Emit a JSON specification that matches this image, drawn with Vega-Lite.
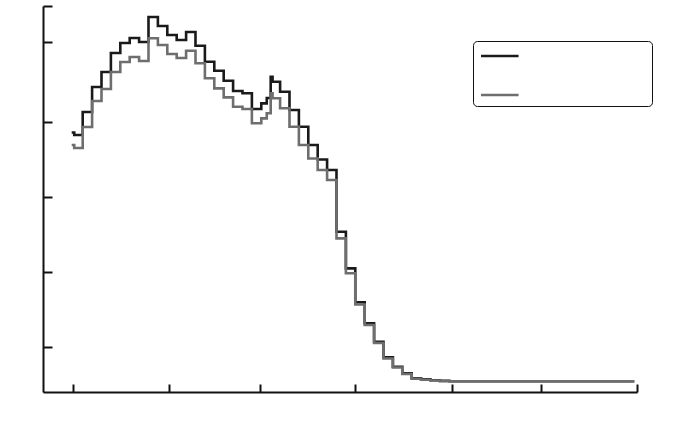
{
  "$schema": "https://vega.github.io/schema/vega-lite/v6.json",
  "autosize": "none",
  "width": 594,
  "height": 386,
  "padding": {"left": 43, "top": 6, "right": 63, "bottom": 56},
  "background": "white",
  "view": {"stroke": null},
  "config": {
    "axis": {
      "domainColor": "#111111",
      "domainWidth": 2,
      "tickColor": "#111111",
      "tickWidth": 2,
      "labels": false,
      "grid": false,
      "title": null
    }
  },
  "data": {
    "values": [
      {"s": "a", "x": -0.017, "y": 3.86},
      {"s": "a", "x": 0.01, "y": 3.827},
      {"s": "a", "x": 0.1, "y": 4.133},
      {"s": "a", "x": 0.2, "y": 4.467},
      {"s": "a", "x": 0.3, "y": 4.667},
      {"s": "a", "x": 0.4, "y": 4.92},
      {"s": "a", "x": 0.5, "y": 5.053},
      {"s": "a", "x": 0.6, "y": 5.12},
      {"s": "a", "x": 0.7, "y": 5.067},
      {"s": "a", "x": 0.8, "y": 5.4},
      {"s": "a", "x": 0.9, "y": 5.28},
      {"s": "a", "x": 1.0, "y": 5.16},
      {"s": "a", "x": 1.1, "y": 5.093},
      {"s": "a", "x": 1.2, "y": 5.2},
      {"s": "a", "x": 1.3, "y": 5.017},
      {"s": "a", "x": 1.4, "y": 4.804},
      {"s": "a", "x": 1.5, "y": 4.684},
      {"s": "a", "x": 1.6, "y": 4.551},
      {"s": "a", "x": 1.7, "y": 4.413},
      {"s": "a", "x": 1.8, "y": 4.383},
      {"s": "a", "x": 1.9, "y": 4.173},
      {"s": "a", "x": 2.0, "y": 4.249},
      {"s": "a", "x": 2.058, "y": 4.32},
      {"s": "a", "x": 2.1, "y": 4.604},
      {"s": "a", "x": 2.12, "y": 4.537},
      {"s": "a", "x": 2.2, "y": 4.404},
      {"s": "a", "x": 2.3, "y": 4.16},
      {"s": "a", "x": 2.4, "y": 3.937},
      {"s": "a", "x": 2.5, "y": 3.693},
      {"s": "a", "x": 2.6, "y": 3.5},
      {"s": "a", "x": 2.7, "y": 3.36},
      {"s": "a", "x": 2.8, "y": 2.537},
      {"s": "a", "x": 2.9, "y": 2.049},
      {"s": "a", "x": 3.0, "y": 1.596},
      {"s": "a", "x": 3.1, "y": 1.316},
      {"s": "a", "x": 3.2, "y": 1.071},
      {"s": "a", "x": 3.3, "y": 0.863},
      {"s": "a", "x": 3.4, "y": 0.737},
      {"s": "a", "x": 3.5, "y": 0.649},
      {"s": "a", "x": 3.6, "y": 0.583},
      {"s": "a", "x": 3.7, "y": 0.569},
      {"s": "a", "x": 3.8, "y": 0.556},
      {"s": "a", "x": 3.9, "y": 0.549},
      {"s": "a", "x": 4.0, "y": 0.544},
      {"s": "a", "x": 5.968, "y": 0.544},
      {"s": "b", "x": -0.017, "y": 3.693},
      {"s": "b", "x": 0.01, "y": 3.653},
      {"s": "b", "x": 0.1, "y": 3.933},
      {"s": "b", "x": 0.2, "y": 4.28},
      {"s": "b", "x": 0.3, "y": 4.44},
      {"s": "b", "x": 0.4, "y": 4.667},
      {"s": "b", "x": 0.5, "y": 4.8},
      {"s": "b", "x": 0.6, "y": 4.867},
      {"s": "b", "x": 0.7, "y": 4.813},
      {"s": "b", "x": 0.8, "y": 5.116},
      {"s": "b", "x": 0.9, "y": 5.027},
      {"s": "b", "x": 1.0, "y": 4.907},
      {"s": "b", "x": 1.1, "y": 4.853},
      {"s": "b", "x": 1.2, "y": 4.951},
      {"s": "b", "x": 1.3, "y": 4.783},
      {"s": "b", "x": 1.4, "y": 4.583},
      {"s": "b", "x": 1.5, "y": 4.449},
      {"s": "b", "x": 1.6, "y": 4.329},
      {"s": "b", "x": 1.7, "y": 4.204},
      {"s": "b", "x": 1.8, "y": 4.173},
      {"s": "b", "x": 1.9, "y": 3.983},
      {"s": "b", "x": 2.0, "y": 4.049},
      {"s": "b", "x": 2.058, "y": 4.116},
      {"s": "b", "x": 2.1, "y": 4.383},
      {"s": "b", "x": 2.12, "y": 4.316},
      {"s": "b", "x": 2.2, "y": 4.183},
      {"s": "b", "x": 2.3, "y": 3.937},
      {"s": "b", "x": 2.4, "y": 3.693},
      {"s": "b", "x": 2.5, "y": 3.513},
      {"s": "b", "x": 2.6, "y": 3.36},
      {"s": "b", "x": 2.7, "y": 3.227},
      {"s": "b", "x": 2.8, "y": 2.449},
      {"s": "b", "x": 2.9, "y": 1.983},
      {"s": "b", "x": 3.0, "y": 1.567},
      {"s": "b", "x": 3.1, "y": 1.293},
      {"s": "b", "x": 3.2, "y": 1.053},
      {"s": "b", "x": 3.3, "y": 0.847},
      {"s": "b", "x": 3.4, "y": 0.727},
      {"s": "b", "x": 3.5, "y": 0.64},
      {"s": "b", "x": 3.6, "y": 0.576},
      {"s": "b", "x": 3.7, "y": 0.563},
      {"s": "b", "x": 3.8, "y": 0.553},
      {"s": "b", "x": 3.9, "y": 0.547},
      {"s": "b", "x": 4.0, "y": 0.544},
      {"s": "b", "x": 5.968, "y": 0.544}
    ]
  },
  "mark": {"type": "line", "interpolate": "step-after", "strokeWidth": 2.6},
  "encoding": {
    "x": {
      "field": "x",
      "type": "quantitative",
      "scale": {"domain": [-0.3223, 5.997], "nice": false, "zero": false},
      "axis": {"values": [-0.006, 1.021, 1.981, 2.999, 4.029, 4.981, 5.994], "tickSize": -8}
    },
    "y": {
      "field": "y",
      "type": "quantitative",
      "scale": {"domain": [0.4, 5.547], "nice": false, "zero": false},
      "axis": {"values": [1, 2, 3, 4, 5.07, 5.547], "tickSize": -9}
    },
    "color": {
      "field": "s",
      "type": "nominal",
      "scale": {"domain": ["a", "b"], "range": ["#1a1a1a", "#6e6e6e"]},
      "legend": {
        "orient": "none",
        "legendX": 430,
        "legendY": 35,
        "title": null,
        "symbolType": "M-2.21,0H2.21",
        "symbolSize": 289,
        "symbolStrokeWidth": 2.6,
        "labelExpr": "''",
        "labelFontSize": 10,
        "labelOffset": 137,
        "rowPadding": 23,
        "padding": 5,
        "symbolOffset": 11.8,
        "strokeColor": "#111111",
        "cornerRadius": 4,
        "fillColor": "white"
      }
    },
    "order": {"field": "x", "type": "quantitative"}
  }
}
